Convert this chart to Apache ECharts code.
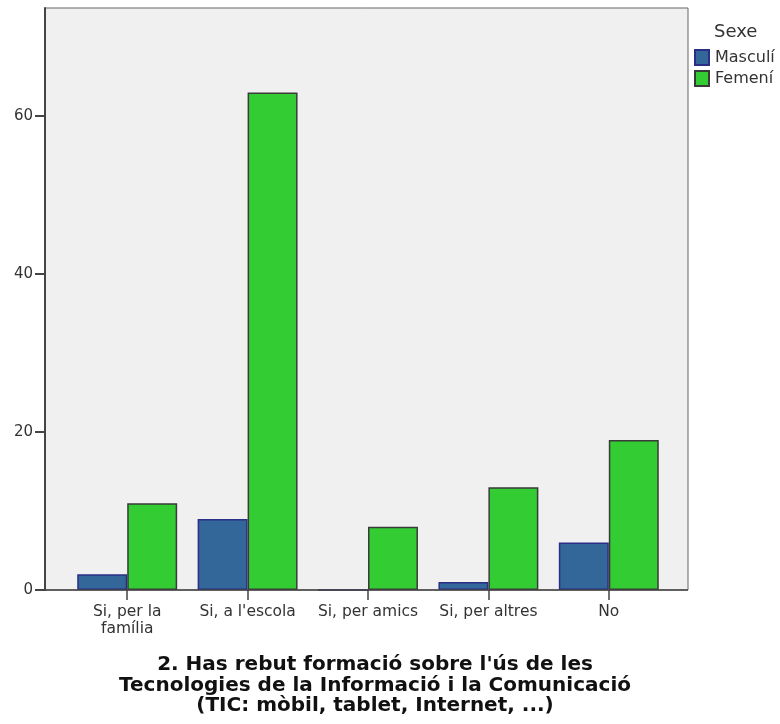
<!DOCTYPE html>
<html>
<head>
<meta charset="utf-8">
<script src="https://cdn.jsdelivr.net/npm/echarts@6/dist/echarts.min.js"></script>
<style>
  html, body { margin: 0; padding: 0; background: #fff; }
  #chart { width: 780px; height: 724px; }
</style>
</head>
<body>
<div id="chart"></div>
<script>
// dades llegides del gràfic
const categories = ['Si, per la\nfamília', "Si, a l'escola", 'Si, per amics', 'Si, per altres', 'No']
const masculi = [2, 9, 0, 1, 6]
const femeni = [11, 63, 8, 13, 19]
const yTicks = [0, 20, 40, 60]

const chart = echarts.init(document.getElementById('chart'))

const font = 'DejaVu Sans, sans-serif'

const option = {
  animation: false,
  backgroundColor: '#ffffff',
  title: [
    {
      text: "2. Has rebut formació sobre l'ús de les\nTecnologies de la Informació i la Comunicació\n(TIC: mòbil, tablet, Internet, ...)",
      left: 370,
      top: 650,
      textAlign: 'center',
      textStyle: {
        fontFamily: font,
        fontWeight: 'bold',
        fontSize: 20,
        lineHeight: 20.5,
        color: '#111'
      }
    },
    {
      text: 'Sexe',
      left: 709,
      top: 18,
      textStyle: {
        fontFamily: font,
        fontWeight: 'normal',
        fontSize: 18,
        color: '#333'
      }
    }
  ],
  legend: {
    orient: 'vertical',
    left: 689,
    top: 44,
    itemWidth: 14,
    itemHeight: 15,
    itemGap: 4,
    icon: 'rect',
    data: ['Masculí', 'Femení'],
    textStyle: {
      fontFamily: font,
      fontSize: 16,
      color: '#333',
      padding: [0, 0, 0, 1]
    }
  },
  grid: [
    {
      left: 45,
      right: 92,
      top: 8,
      bottom: 134,
      show: true,
      backgroundColor: '#f0f0f0',
      borderColor: '#666',
      borderWidth: 1
    },
    {
      left: 67,
      right: 111,
      top: 8,
      bottom: 134
    }
  ],
  xAxis: [
    {
      gridIndex: 0,
      type: 'value',
      show: false
    },
    {
      gridIndex: 1,
      type: 'category',
      data: categories,
      axisLine: { show: false },
      axisTick: {
        show: true,
        alignWithLabel: true,
        length: 10,
        lineStyle: { color: '#444', width: 1.5 }
      },
      axisLabel: {
        fontFamily: font,
        fontSize: 15.5,
        color: '#333',
        lineHeight: 17,
        margin: 13,
        interval: 0
      }
    }
  ],
  yAxis: [
    {
      gridIndex: 0,
      type: 'value',
      min: 0,
      max: 73.7,
      interval: 20,
      axisLine: { show: true, lineStyle: { color: '#444', width: 2 } },
      axisTick: { show: true, length: 10, customValues: yTicks, lineStyle: { color: '#444', width: 2 } },
      axisLabel: {
        fontFamily: font,
        fontSize: 15,
        color: '#333',
        margin: 12,
        customValues: yTicks
      },
      splitLine: { show: false }
    },
    {
      gridIndex: 1,
      type: 'value',
      min: 0,
      max: 73.7,
      show: false
    }
  ],
  series: [
    {
      name: 'Masculí',
      type: 'bar',
      xAxisIndex: 1,
      yAxisIndex: 1,
      data: masculi,
      barGap: '0%',
      barCategoryGap: '17%',
      itemStyle: { color: '#336699', borderColor: '#2b2e86', borderWidth: 1.5 }
    },
    {
      name: 'Femení',
      type: 'bar',
      xAxisIndex: 1,
      yAxisIndex: 1,
      data: femeni,
      barGap: '0%',
      barCategoryGap: '17%',
      itemStyle: { color: '#33cc33', borderColor: '#3a3a3a', borderWidth: 1.5 }
    },
    {
      // línia de base del zero
      type: 'line',
      xAxisIndex: 0,
      yAxisIndex: 0,
      data: [],
      silent: true,
      markLine: {
        symbol: 'none',
        silent: true,
        label: { show: false },
        lineStyle: { color: '#444', width: 1.5, type: 'solid' },
        data: [{ yAxis: 0 }]
      }
    }
  ]
}

chart.setOption(option)
</script>
</body>
</html>
